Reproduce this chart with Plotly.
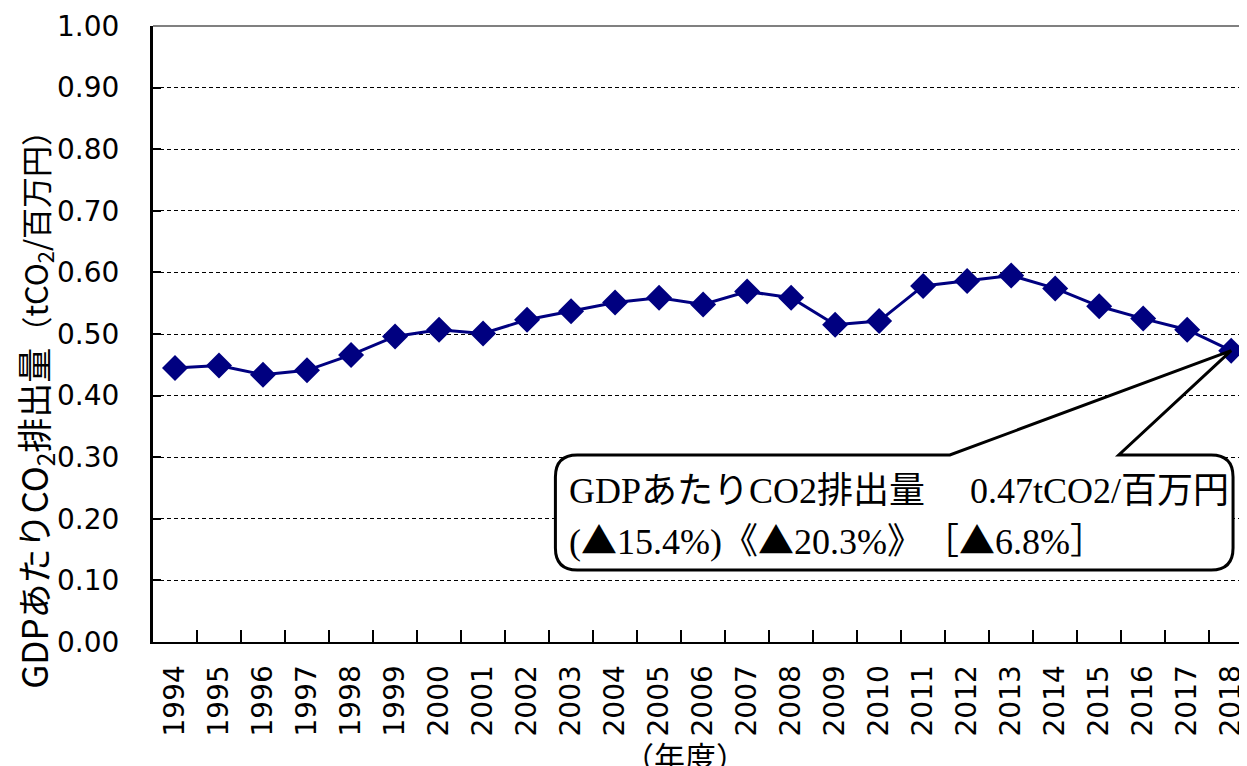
import plotly.graph_objects as go

years = [str(y) for y in range(1994, 2019)]
values = [0.445, 0.449, 0.434, 0.441, 0.466, 0.496, 0.507, 0.501, 0.523, 0.537,
          0.551, 0.559, 0.548, 0.569, 0.559, 0.515, 0.521, 0.578, 0.586, 0.595,
          0.574, 0.545, 0.525, 0.507, 0.473]
y_ticks = [i / 10 for i in range(11)]
y_tick_labels = [f"{v:.2f}" for v in y_ticks]

TRI = "<span style='font-family:Noto Sans CJK JP'>▲</span>"
callout_line1 = "GDPあたりCO2排出量　 0.47tCO2/百万円"
callout_line2 = f"({TRI}15.4%)《{TRI}20.3%》　［{TRI}6.8%］"

# page offset of the figure div (body margin)
OFF = 8
PL, PT, PB = 153, 26, 642   # plot area edges in page pixels
W, H = 1247 - OFF, 766 - OFF
ML, MT = PL - OFF, PT - OFF
PW, PH = W - ML, PB - PT
MB = H - MT - PH
XR = [-0.5, 24.2]


def px(xp):
    return (xp - PL) / PW


def py(yp):
    return (PB - yp) / PH


fig = go.Figure()
fig.add_trace(go.Scatter(
    x=years, y=values, mode="lines+markers",
    line=dict(color="#000080", width=3),
    marker=dict(symbol="diamond", size=20, color="#000080"),
    showlegend=False, cliponaxis=False,
))

# callout bubble (pixel geometry converted to paper units); tip at last data point
tip_x = (len(years) - 1 - XR[0]) / (XR[1] - XR[0])
tip_y = values[-1]
L_, R_, T_, B_, r = 558, 1240, 455, 570, 22


def P(x, y):
    return f"{px(x):.5f},{py(y):.5f}"


path = (
    f"M {P(L_ + r, T_)} L {P(955, T_)} L {tip_x:.5f},{tip_y:.5f} L {P(1125, T_)} "
    f"L {P(R_ - r, T_)} Q {P(R_, T_)} {P(R_, T_ + r)} L {P(R_, B_ - r)} "
    f"Q {P(R_, B_)} {P(R_ - r, B_)} L {P(L_ + r, B_)} Q {P(L_, B_)} {P(L_, B_ - r)} "
    f"L {P(L_, T_ + r)} Q {P(L_, T_)} {P(L_ + r, T_)} Z"
)

shapes = [
    dict(type="line", xref="paper", yref="paper", x0=0, x1=1, y0=1, y1=1,
         line=dict(color="#808080", width=2)),
    dict(type="path", xref="paper", yref="paper", path=path,
         fillcolor="white", line=dict(color="black", width=3), layer="above"),
]

serif = "Liberation Serif, Noto Sans CJK JP"
annotations = [
    dict(xref="paper", yref="paper", x=px(570), y=py(491), xanchor="left", yanchor="middle",
         text=callout_line1, showarrow=False, font=dict(family=serif, size=36, color="black")),
    dict(xref="paper", yref="paper", x=px(570), y=py(538), xanchor="left", yanchor="middle",
         text=callout_line2, showarrow=False, font=dict(family=serif, size=36, color="black")),
    dict(xref="paper", yref="paper", x=px(33), y=py(402), xanchor="center", yanchor="middle",
         textangle=-90, showarrow=False,
         text="GDPあたりCO<sub>2</sub>排出量<span style='font-size:31px'>（tCO<sub>2</sub>/百万円）</span>",
         font=dict(family="Noto Sans CJK JP", size=35, color="black")),
    dict(xref="paper", yref="paper", x=px(688), y=py(731), xanchor="center", yanchor="top",
         text="（年度）", showarrow=False,
         font=dict(family="Noto Sans CJK JP", size=31, color="black")),
]

fig.update_layout(
    width=W, height=H, autosize=False,
    margin=dict(l=ML, r=0, t=MT, b=MB, pad=0),
    paper_bgcolor="white", plot_bgcolor="white",
    shapes=shapes, annotations=annotations,
    xaxis=dict(
        type="category", categoryorder="array", categoryarray=years,
        range=XR, tickson="boundaries", ticks="inside", ticklen=12,
        tickwidth=1.5, tickcolor="black", showline=True, linecolor="black",
        linewidth=2, tickangle=-90, showgrid=False, ticklabelstandoff=10,
        tickfont=dict(family="DejaVu Sans", size=28, color="black"),
    ),
    yaxis=dict(
        range=[0, 1], tickvals=y_ticks, ticktext=y_tick_labels,
        ticks="inside", ticklen=8, tickwidth=1.5, tickcolor="black",
        showline=True, linecolor="black", linewidth=3, zeroline=False,
        showgrid=True, gridcolor="black", gridwidth=1, griddash="4px,3px",
        ticklabelstandoff=25,
        tickfont=dict(family="DejaVu Sans", size=28, color="black"),
    ),
)

fig.write_html("out.html")
